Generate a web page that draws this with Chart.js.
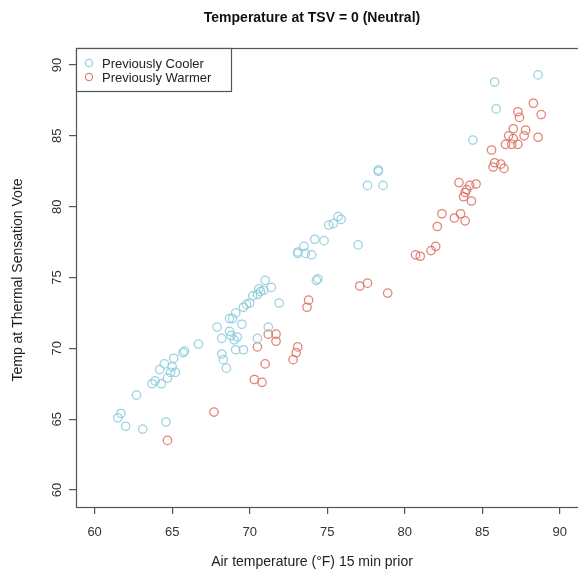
<!DOCTYPE html>
<html><head><meta charset="utf-8">
<script src="https://cdn.jsdelivr.net/npm/chart.js@4/dist/chart.umd.min.js"></script>
<style>html,body{margin:0;padding:0;background:#fff;overflow:hidden}#wrap{width:578px;height:573px}</style>
</head><body><div id="wrap"><canvas id="c" width="578" height="573"></canvas></div>
<script>
const seriesNames = ['Previously Cooler', 'Previously Warmer'];
const titleText = 'Temperature at TSV = 0 (Neutral)';
const xTitle = 'Air temperature (\u00B0F) 15 min prior';
const yTitle = 'Temp at Thermal Sensation Vote';
const xTicks = [60, 65, 70, 75, 80, 85, 90];
const yTicks = [60, 65, 70, 75, 80, 85, 90];

const coolerX = [61.5,61.7,62.0,63.1,64.6,62.7,63.7,63.9,64.3,64.7,64.2,64.5,64.9,65.2,65.0,65.1,65.7,65.8,66.7,67.9,68.2,68.2,68.3,68.5,68.7,68.8,69.0,69.2,69.1,69.6,69.5,68.7,68.9,69.1,69.6,69.8,70.0,70.2,70.5,70.7,70.9,71.0,70.6,71.4,71.9,70.5,71.2,74.3,74.4,73.1,73.1,73.5,73.6,74.0,74.2,74.8,75.1,75.4,75.7,75.9,77.0,77.6,78.6,78.3,78.3,84.4,85.9,85.8,88.6];
const coolerY = [65.1,65.4,64.5,64.3,64.8,66.7,67.5,67.7,67.5,67.9,68.5,68.9,68.3,68.3,68.7,69.3,69.7,69.8,70.3,71.5,70.7,69.6,69.2,68.6,71.2,70.9,70.6,70.8,69.9,69.9,71.7,72.1,72.1,72.5,72.9,73.1,73.2,73.7,73.8,74.0,74.1,74.8,74.2,74.3,73.2,70.7,71.5,74.8,74.9,76.7,76.8,77.2,76.7,76.6,77.7,77.6,78.7,78.8,79.3,79.1,77.3,81.5,81.5,82.6,82.5,84.7,86.9,88.8,89.3];

const warmerX = [64.7,67.7,70.3,70.8,71.0,70.5,71.2,71.7,71.7,72.8,73.0,73.1,73.7,73.8,77.1,77.6,78.9,80.7,81.0,81.7,82.0,82.1,82.4,83.2,83.6,83.9,83.5,84.2,84.6,84.0,83.9,83.8,84.3,85.6,85.8,86.2,85.7,86.4,86.5,86.9,87.3,86.7,87.0,87.0,87.8,87.7,88.6,87.3,87.4,88.3,88.8];
const warmerY = [63.5,65.5,67.8,67.6,68.9,70.1,71.0,71.0,70.5,69.2,69.7,70.1,72.9,73.4,74.4,74.6,73.9,76.6,76.5,76.9,77.2,78.6,79.5,79.2,79.5,79.0,81.7,81.5,81.6,81.2,81.0,80.7,80.4,84.0,83.1,83.0,82.8,82.7,84.4,84.4,84.4,85.0,84.8,85.5,85.4,85.0,84.9,86.7,86.3,87.3,86.5];

const blue = 'rgba(140,202,218,0.85)';
const red = 'rgba(220,110,96,0.85)';
const axisColor = '#555';
const fontFam = '"Liberation Sans", Arial, sans-serif';

function pts(xs, ys) { return xs.map((x, i) => ({ x: x, y: ys[i] })); }

const decor = {
  id: 'decor',
  afterDraw(chart) {
    const ctx = chart.ctx, a = chart.chartArea;
    const ys = chart.scales.y;
    ctx.save();
    ctx.strokeStyle = axisColor; ctx.lineWidth = 1.2;
    ctx.strokeRect(a.left + 0.5, a.top + 0.5, a.right - a.left + 20, a.bottom - a.top);
    ctx.fillStyle = '#111';
    ctx.font = 'bold 14px ' + fontFam;
    ctx.textAlign = 'center'; ctx.textBaseline = 'middle';
    ctx.fillText(titleText, 312, 18);
    ctx.font = '14px ' + fontFam; ctx.fillStyle = '#222';
    ctx.fillText(xTitle, 312, 562);
    ctx.save();
    ctx.translate(18, 280); ctx.rotate(-Math.PI / 2);
    ctx.fillText(yTitle, 0, 0);
    ctx.restore();
    ctx.font = '13px ' + fontFam; ctx.fillStyle = '#333';
    yTicks.forEach(v => {
      const py = ys.getPixelForValue(v);
      ctx.save(); ctx.translate(57, py); ctx.rotate(-Math.PI / 2);
      ctx.fillText(String(v), 0, 0); ctx.restore();
    });
    const lx = a.left, ly = a.top, lw = 155, lh = 43;
    ctx.fillStyle = '#fff';
    ctx.fillRect(lx + 0.5, ly + 0.5, lw, lh);
    ctx.strokeStyle = axisColor; ctx.lineWidth = 1.2;
    ctx.strokeRect(lx + 0.5, ly + 0.5, lw, lh);
    const cols = [blue, red];
    ctx.textAlign = 'left'; ctx.font = '13px ' + fontFam; ctx.fillStyle = '#222';
    seriesNames.forEach((n, i) => {
      const cy = ly + 15 + i * 14;
      ctx.beginPath(); ctx.arc(lx + 13, cy, 3.6, 0, Math.PI * 2);
      ctx.strokeStyle = cols[i]; ctx.lineWidth = 1.3; ctx.stroke();
      ctx.fillStyle = '#222';
      ctx.fillText(n, lx + 26, cy + 1);
    });
    ctx.restore();
  }
};

new Chart(document.getElementById('c'), {
  type: 'scatter',
  data: {
    datasets: [
      { label: seriesNames[0], data: pts(coolerX, coolerY), borderColor: blue, backgroundColor: 'rgba(0,0,0,0)', pointRadius: 4.2, pointBorderWidth: 1.3, pointHoverRadius: 4.2 },
      { label: seriesNames[1], data: pts(warmerX, warmerY), borderColor: red, backgroundColor: 'rgba(0,0,0,0)', pointRadius: 4.2, pointBorderWidth: 1.3, pointHoverRadius: 4.2 }
    ]
  },
  options: {
    responsive: false, animation: false, devicePixelRatio: 1,
    layout: { autoPadding: false, padding: { left: 0, right: -3, top: 48, bottom: 0 } },
    plugins: { legend: { display: false }, title: { display: false }, tooltip: { enabled: false } },
    scales: {
      x: {
        type: 'linear', min: 58.8, max: 90.72,
        afterBuildTicks: s => { s.ticks = xTicks.map(v => ({ value: v })); },
        afterFit: s => { s.height = 66; },
        grid: { display: true, drawOnChartArea: false, drawTicks: true, tickLength: 7, color: axisColor, lineWidth: 1.2 },
        border: { display: false },
        ticks: { color: '#333', font: { family: fontFam, size: 13 }, padding: 11, maxRotation: 0 }
      },
      y: {
        type: 'linear', min: 58.8, max: 91.2,
        afterBuildTicks: s => { s.ticks = yTicks.map(v => ({ value: v })); },
        afterFit: s => { s.width = 76; },
        grid: { display: true, drawOnChartArea: false, drawTicks: true, tickLength: 7, color: axisColor, lineWidth: 1.2 },
        border: { display: false },
        ticks: { display: false }
      }
    }
  },
  plugins: [decor]
});
</script></body></html>
